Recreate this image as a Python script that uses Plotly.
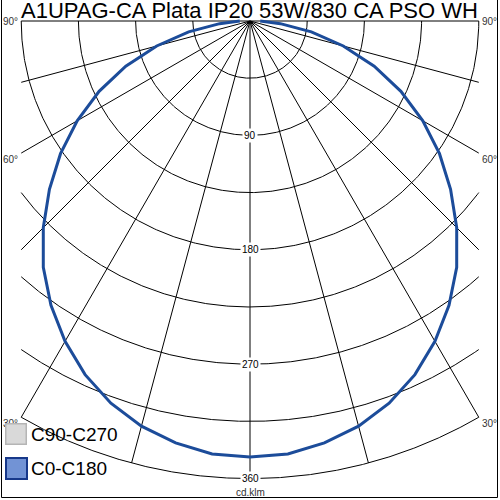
import numpy as np
import plotly.graph_objects as go

# ---------------- data ----------------
TITLE = "A1UPAG-CA Plata IP20 53W/830 CA PSO WH"
UNIT = "cd.klm"
GAMMA = [0, 5, 10, 15, 20, 25, 30, 35, 40, 45, 50, 55, 60, 65, 70, 75, 80, 85, 90]
I_C0 = [343, 342, 337, 330, 320, 307, 291, 273, 253, 230, 206, 182, 157, 131, 104, 76, 49, 24, 8]
I_C180 = [343, 342, 337, 330, 320, 307, 291, 273, 253, 230, 206, 182, 157, 131, 104, 76, 49, 24, 8]
I_C90 = [343, 342, 337, 330, 320, 307, 291, 273, 253, 230, 206, 182, 157, 131, 104, 76, 49, 24, 8]
I_C270 = [343, 342, 337, 330, 320, 307, 291, 273, 253, 230, 206, 182, 157, 131, 104, 76, 49, 24, 8]
RINGS = [45, 90, 135, 180, 225, 270, 315, 360]
RING_LABELS = [90, 180, 270, 360]
SPOKES = [-90, -75, -60, -45, -30, -15, 0, 15, 30, 45, 60, 75, 90]
ANGLE_LABELS = [90, 60, 30]
LEGEND = ["C90-C270", "C0-C180"]

# ---------------- geometry ----------------
S = 1.271          # px per cd/klm
XLIM = 180         # clip half width of the grid
RMAX = 360
FONT = "Liberation Sans, Arial, sans-serif"


def plane(gam_deg, r):
    g = np.radians(np.asarray(gam_deg, dtype=float))
    r = np.asarray(r, dtype=float)
    return r * np.sin(g), -r * np.cos(g)


def curve(left_vals, right_vals):
    gam = [-g for g in GAMMA[::-1]] + GAMMA[1:]
    vals = left_vals[::-1] + right_vals[1:]
    return plane(gam, vals)


# rings
rx, ry = [], []
for R in RINGS:
    gmax = 90.0 if R <= XLIM else np.degrees(np.arcsin(XLIM / R))
    g = np.linspace(-gmax, gmax, 400)
    x, y = plane(g, np.full_like(g, R))
    rx += list(x) + [None]
    ry += list(y) + [None]

# spokes
sx, sy = [], []
for g in SPOKES:
    sg = abs(np.sin(np.radians(g)))
    rend = RMAX if sg < 1e-9 else min(RMAX, XLIM / sg)
    x, y = plane([g, g], [0, rend])
    sx += list(x) + [None]
    sy += list(y) + [None]

fig = go.Figure()
fig.add_trace(go.Scatter(x=rx, y=ry, mode="lines", line=dict(color="#000000", width=1),
                         hoverinfo="skip", showlegend=False))
fig.add_trace(go.Scatter(x=sx, y=sy, mode="lines", line=dict(color="#000000", width=1),
                         hoverinfo="skip", showlegend=False))

gx, gy = curve(I_C270, I_C90)
fig.add_trace(go.Scatter(x=gx, y=gy, mode="lines", name=LEGEND[0],
                         line=dict(color="#BDBDBD", width=1.5), showlegend=False))
bx, by = curve(I_C180, I_C0)
fig.add_trace(go.Scatter(x=bx, y=by, mode="lines", name=LEGEND[1],
                         line=dict(color="#1C4C9A", width=3), showlegend=False))

ann = []
for r in RING_LABELS:
    ann.append(dict(x=0, y=-r, text=str(r), showarrow=False, bgcolor="white",
                    xanchor="center", yanchor="middle",
                    borderpad=1, font=dict(family=FONT, size=10, color="#000000")))
ann.append(dict(x=0, y=-RMAX, yshift=-14, text=UNIT, showarrow=False,
                xanchor="center", yanchor="middle",
                font=dict(family=FONT, size=10, color="#333333")))

shifts = {90: 0, 60: -6, 30: -6}
for a in ANGLE_LABELS:
    yend = 0.0 if a == 90 else -XLIM / np.tan(np.radians(a))
    for side in (-1, 1):
        ann.append(dict(x=side * XLIM, y=yend, yshift=shifts[a], yanchor="middle",
                        xshift=side * 1, xanchor="right" if side < 0 else "left",
                        text=f"{a}°", showarrow=False,
                        font=dict(family=FONT, size=10, color="#333333")))

# title
ann.append(dict(xref="paper", yref="paper", x=19 / 500, y=1 - 10 / 500, xanchor="left",
                yanchor="middle", text=TITLE, showarrow=False,
                font=dict(family=FONT, size=22, color="#000000")))

# legend (boxes as annotations so they sit over the angle label)
ann.append(dict(xref="paper", yref="paper", x=16 / 500, y=1 - 433.5 / 500, text=" ",
                xanchor="center", yanchor="middle",
                width=19, height=19, bgcolor="#D9D9D9", bordercolor="#B5B5B5",
                borderwidth=1.5, borderpad=0, showarrow=False,
                font=dict(family=FONT, size=10)))
ann.append(dict(xref="paper", yref="paper", x=16.5 / 500, y=1 - 468 / 500, text=" ",
                xanchor="center", yanchor="middle",
                width=19, height=19, bgcolor="#7293D5", bordercolor="#17388A",
                borderwidth=2, borderpad=0, showarrow=False,
                font=dict(family=FONT, size=10)))
ann.append(dict(xref="paper", yref="paper", x=29 / 500, y=1 - 434.5 / 500, xanchor="left",
                yanchor="middle", text=LEGEND[0], showarrow=False,
                font=dict(family=FONT, size=19, color="#000000")))
ann.append(dict(xref="paper", yref="paper", x=29 / 500, y=1 - 468.5 / 500, xanchor="left",
                yanchor="middle", text=LEGEND[1], showarrow=False,
                font=dict(family=FONT, size=19, color="#000000")))

border = dict(color="#000000", width=1)
fig.update_layout(
    width=500, height=500,
    margin=dict(l=0, r=0, t=0, b=0),
    paper_bgcolor="white", plot_bgcolor="white",
    xaxis=dict(range=[-250 / S, 250 / S], visible=False, fixedrange=True),
    yaxis=dict(range=[-479 / S, 21 / S], visible=False, fixedrange=True),
    annotations=ann,
    shapes=[
        dict(type="line", xref="paper", yref="paper", x0=1.5 / 500, x1=1.5 / 500,
             y0=1 - 497.5 / 500, y1=1, line=border, layer="above"),
        dict(type="line", xref="paper", yref="paper", x0=497.5 / 500, x1=497.5 / 500,
             y0=1 - 497.5 / 500, y1=1, line=border, layer="above"),
        dict(type="line", xref="paper", yref="paper", x0=1.5 / 500, x1=497.5 / 500,
             y0=1 - 497.5 / 500, y1=1 - 497.5 / 500, line=border, layer="above"),
    ],
    showlegend=False,
)

fig.write_html("out.html", config={"displayModeBar": False, "staticPlot": True},
               post_script="document.body.style.margin='0px';document.body.style.overflow='hidden';")
